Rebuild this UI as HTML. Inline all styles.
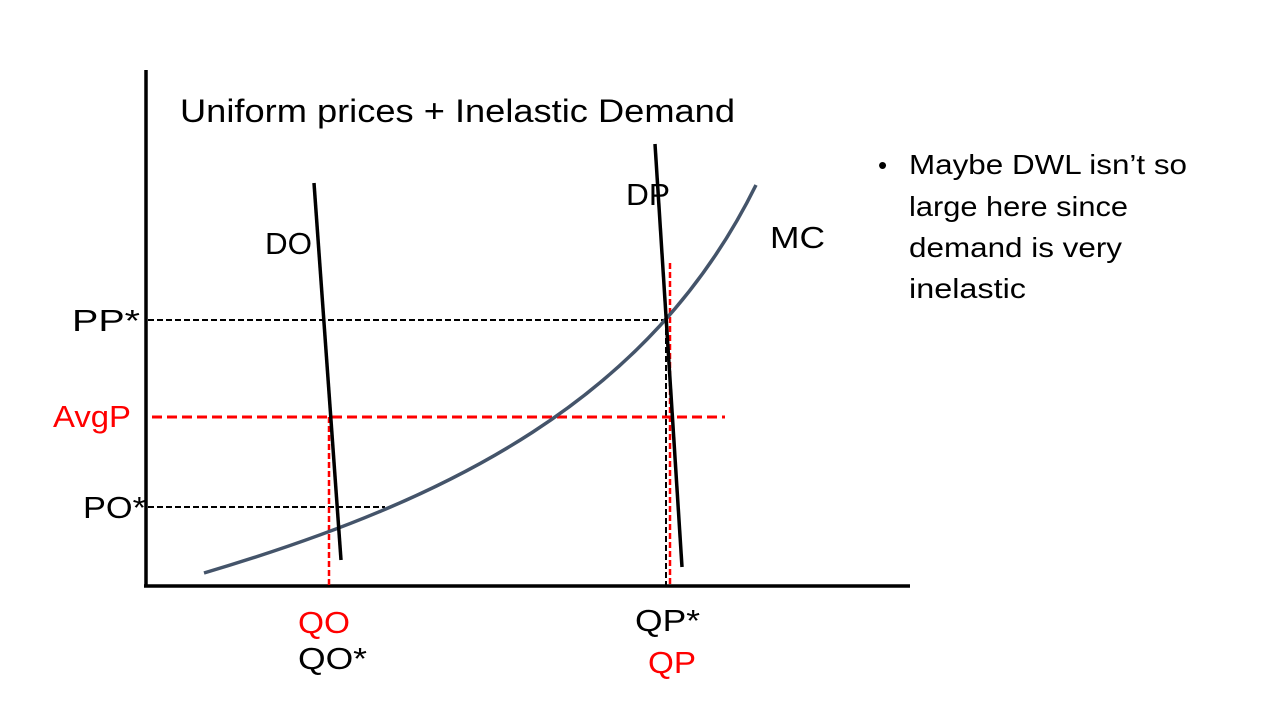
<!DOCTYPE html>
<html><head><meta charset="utf-8"><style>
html,body{margin:0;padding:0;background:#fff;}
svg{display:block;}
text{font-family:"Liberation Sans",sans-serif;}
</style></head><body>
<svg width="1280" height="720" viewBox="0 0 1280 720" xmlns="http://www.w3.org/2000/svg">
<rect width="1280" height="720" fill="#fff"/>
<line x1="146" y1="70" x2="146" y2="587" stroke="#000" stroke-width="3.5"/>
<line x1="144" y1="586" x2="910" y2="586" stroke="#000" stroke-width="3.5"/>
<line x1="148" y1="320" x2="667" y2="320" stroke="#000" stroke-width="2" stroke-dasharray="6,3"/>
<line x1="148" y1="507" x2="385" y2="507" stroke="#000" stroke-width="2" stroke-dasharray="6,3"/>
<line x1="666" y1="320" x2="666" y2="586" stroke="#000" stroke-width="2" stroke-dasharray="6,3"/>
<line x1="152" y1="417" x2="725" y2="417" stroke="#f00" stroke-width="3" stroke-dasharray="10,5"/>
<line x1="329" y1="417" x2="329" y2="586" stroke="#f00" stroke-width="2.5" stroke-dasharray="6,3"/>
<line x1="670" y1="263" x2="670" y2="586" stroke="#f00" stroke-width="2.5" stroke-dasharray="6,3"/>
<path d="M204 573 C 450 500, 650 400, 756 185" fill="none" stroke="#44546a" stroke-width="3.5"/>
<line x1="314" y1="183" x2="341" y2="560" stroke="#000" stroke-width="3.5"/>
<line x1="655" y1="144" x2="682" y2="567" stroke="#000" stroke-width="3.5"/>
<text x="180" y="122" font-size="32" textLength="555" lengthAdjust="spacingAndGlyphs">Uniform prices + Inelastic Demand</text>
<text x="265" y="254" font-size="31" textLength="47" lengthAdjust="spacingAndGlyphs">DO</text>
<text x="626" y="205" font-size="31" textLength="44" lengthAdjust="spacingAndGlyphs">DP</text>
<text x="770" y="248" font-size="31" textLength="55" lengthAdjust="spacingAndGlyphs">MC</text>
<text x="72" y="331" font-size="31" textLength="68" lengthAdjust="spacingAndGlyphs">PP*</text>
<text x="53" y="427" font-size="31" fill="#f00" textLength="78" lengthAdjust="spacingAndGlyphs">AvgP</text>
<text x="83" y="518" font-size="31" textLength="63" lengthAdjust="spacingAndGlyphs">PO*</text>
<text x="298" y="633" font-size="31" fill="#f00" textLength="52" lengthAdjust="spacingAndGlyphs">QO</text>
<text x="298" y="669" font-size="31" textLength="69" lengthAdjust="spacingAndGlyphs">QO*</text>
<text x="635" y="631" font-size="31" textLength="65" lengthAdjust="spacingAndGlyphs">QP*</text>
<text x="648" y="673" font-size="31" fill="#f00" textLength="48" lengthAdjust="spacingAndGlyphs">QP</text>
<text x="878" y="174" font-size="26">•</text>
<text x="909" y="174" font-size="28" textLength="278" lengthAdjust="spacingAndGlyphs">Maybe DWL isn’t so</text>
<text x="909" y="216" font-size="28" textLength="219" lengthAdjust="spacingAndGlyphs">large here since</text>
<text x="909" y="257" font-size="28" textLength="213" lengthAdjust="spacingAndGlyphs">demand is very</text>
<text x="909" y="298" font-size="28" textLength="117" lengthAdjust="spacingAndGlyphs">inelastic</text>
</svg>
</body></html>
